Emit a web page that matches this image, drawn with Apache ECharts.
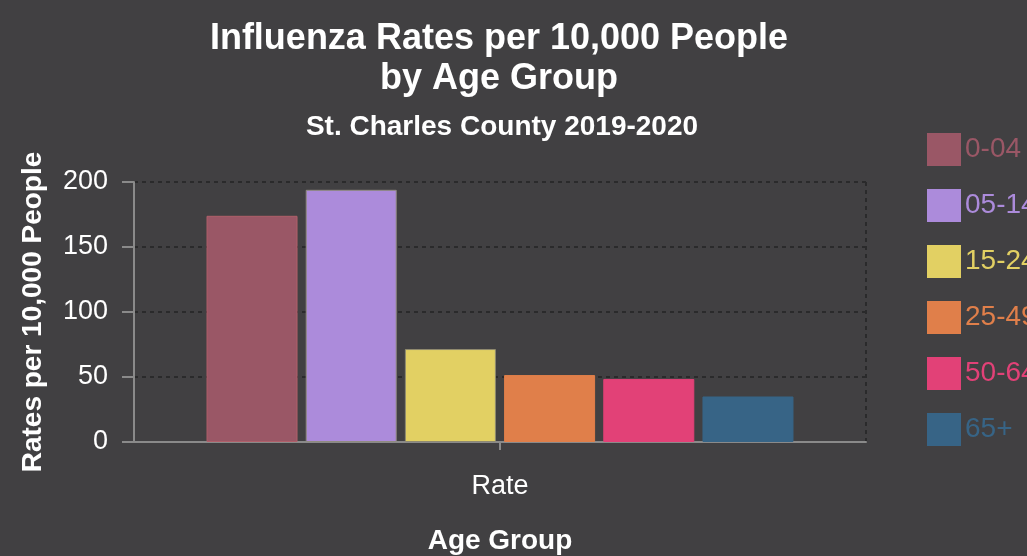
<!DOCTYPE html>
<html>
<head>
<meta charset="utf-8">
<script src="https://cdn.jsdelivr.net/npm/echarts@6/dist/echarts.min.js"></script>
<style>
  html,body{margin:0;padding:0;background:#414042;}
  #chart{width:1027px;height:556px;}
</style>
</head>
<body>
<div id="chart"></div>
<script>
// age groups (series), one category
var groups = ['0-04', '05-14', '15-24', '25-49', '50-64', '65+'];
var rates = [174, 194, 71.5, 51.5, 48.5, 35];
var colors = ['#9a5766', '#ac8bdb', '#e2d063', '#e07f4a', '#e24177', '#376486'];
var borders = ['#b0606a', '#8f8a80', '#8f8a70', '#e07f4a', '#e24177', '#376486'];
var categories = ['Rate'];
var yTicks = [0, 50, 100, 150, 200];

var font = 'Liberation Sans, Arial, sans-serif';
var chart = echarts.init(document.getElementById('chart'));

var series = [];
for (var i = 0; i < groups.length; i++) {
  series.push({
    name: groups[i],
    type: 'bar',
    barWidth: 91,
    barGap: '9%',
    data: [rates[i]],
    itemStyle: { color: colors[i], borderColor: borders[i], borderWidth: 1 }
  });
}

var legendData = groups.map(function (g, i) {
  return { name: g, textStyle: { color: colors[i] }, itemStyle: { color: colors[i], borderColor: colors[i] } };
});

var option = {
  backgroundColor: '#414042',
  textStyle: { fontFamily: font },
  title: [{
    text: 'Influenza Rates per 10,000 People\nby Age Group',
    left: 494, top: 14, textAlign: 'center',
    textStyle: { color: '#fff', fontSize: 36, fontWeight: 'bold', fontFamily: font, lineHeight: 40 }
  }, {
    text: 'St. Charles County 2019-2020',
    left: 497, top: 108, textAlign: 'center',
    textStyle: { color: '#fff', fontSize: 28, fontWeight: 'bold', fontFamily: font }
  }],
  legend: {
    orient: 'vertical',
    left: 927, top: 133,
    padding: 0,
    itemWidth: 32, itemHeight: 31, itemGap: 23,
    icon: 'rect',
    textStyle: { fontSize: 28, fontFamily: font, padding: [0, 0, 0, 0] },
    data: legendData
  },
  grid: { left: 134, right: 161, top: 182, bottom: 110 },
  xAxis: {
    type: 'category',
    data: categories,
    name: 'Age Group',
    nameLocation: 'middle',
    nameGap: 85,
    nameTextStyle: { color: '#fff', fontSize: 28, fontWeight: 'bold', fontFamily: font },
    axisLine: { lineStyle: { color: '#8a8a8a', width: 2 } },
    axisTick: { show: true, alignWithLabel: true, length: 8, lineStyle: { color: '#8a8a8a', width: 2 } },
    axisLabel: { color: '#fff', fontSize: 27, margin: 31, fontFamily: font },
    splitLine: { show: true, lineStyle: { color: '#2a2a2b', type: [4, 4], width: 2 } }
  },
  yAxis: {
    type: 'value',
    min: yTicks[0], max: yTicks[yTicks.length - 1], interval: 50,
    name: 'Rates per 10,000 People',
    nameLocation: 'middle',
    nameGap: 87,
    nameTextStyle: { color: '#fff', fontSize: 28, fontWeight: 'bold', fontFamily: font },
    axisLine: { show: true, lineStyle: { color: '#8a8a8a', width: 2 } },
    axisTick: { show: true, length: 12, lineStyle: { color: '#8a8a8a', width: 2 } },
    axisLabel: { color: '#fff', fontSize: 27, margin: 26, fontFamily: font, padding: [7, 0, 0, 0] },
    splitLine: { show: true, lineStyle: { color: '#2a2a2b', type: [4, 4], width: 2 } }
  },
  series: series
};

chart.setOption(option);
</script>
</body>
</html>
